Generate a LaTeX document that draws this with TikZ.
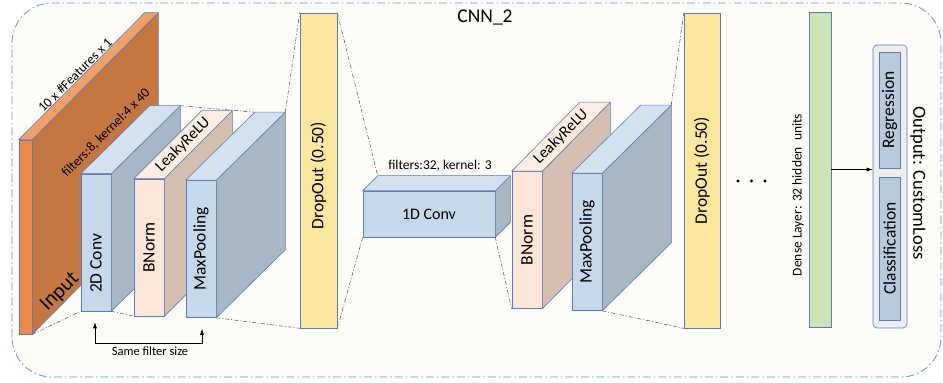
\documentclass[tikz,border=0pt]{standalone}
\usepackage{fontspec}
\usepackage{graphicx}
\setmainfont{Carlito}
\usetikzlibrary{calc,arrows.meta}

\definecolor{edgeblue}{HTML}{5B7DB5}
\definecolor{frameblue}{HTML}{6F8FC6}
\definecolor{bgcream}{HTML}{FDFCF8}
\definecolor{inorange}{HTML}{ED8B4F}
\definecolor{inbrown}{HTML}{C57741}
\definecolor{intop}{HTML}{F2A06A}
\definecolor{bluefront}{HTML}{C6D9EB}
\definecolor{blueside}{HTML}{A7B7C4}
\definecolor{bluetop}{HTML}{D3E2EF}
\definecolor{peachfront}{HTML}{FBE6D8}
\definecolor{peachside}{HTML}{D4BFB1}
\definecolor{peachtop}{HTML}{FCEDE3}
\definecolor{dropyellow}{HTML}{FFE69D}
\definecolor{densegreen}{HTML}{CCE2B7}
\definecolor{outgray}{HTML}{EDEDED}
\definecolor{outblue}{HTML}{B8CADC}

\newcommand{\bigtxt}{\fontsize{19.5}{20}\selectfont}
\newcommand{\vtxt}{\fontsize{17.5}{18}\selectfont}
\newcommand{\midtxt}{\fontsize{16}{17}\selectfont}
\newcommand{\smalltxt}{\fontsize{13.5}{14}\selectfont}

\newcommand{\depthfaces}[5]{%
  \filldraw[fill=#4, draw=edgeblue, line width=0.6pt, line join=round]
    (#1.north east) -- ++(#2,#3) -- ($(#1.south east)+(#2,#3)$) -- (#1.south east) -- cycle;
  \filldraw[fill=#5, draw=edgeblue, line width=0.6pt, line join=round]
    (#1.north west) -- ++(#2,#3) -- ($(#1.north east)+(#2,#3)$) -- (#1.north east) -- cycle;
}

\pgfdeclarelayer{bg}
\pgfsetlayers{bg,main}

\tikzset{
  face/.style={draw=edgeblue, line width=0.6pt, inner sep=0pt, minimum width=30, minimum height=137},
  bar/.style={face, minimum width=37, minimum height=315},
  link/.style={draw=black!70, line width=0.5pt, dash pattern=on 4pt off 2pt on 1pt off 2pt},
  caption/.style={inner sep=1pt}
}

\begin{document}
\begin{tikzpicture}[x=1pt,y=1pt]
\useasboundingbox (0,0) rectangle (943,383);

\node[face, fill=inorange, minimum width=13, minimum height=194] (input) at (25.5,146) {};
\depthfaces{input}{126}{127}{inbrown}{intop}

\node[face, fill=bluefront] (conv2d) at (96,140.5) {\rotatebox{90}{\vtxt 2D Conv\hspace*{42pt}}};
\depthfaces{conv2d}{69}{68}{blueside}{bluetop}

\node[face, fill=peachfront] (bnorm1) at (149,135.5) {\rotatebox{90}{\vtxt BNorm}};
\depthfaces{bnorm1}{68}{68}{peachside}{peachtop}

\node[face, fill=bluefront] (maxpool1) at (201,134) {\rotatebox{90}{\vtxt MaxPooling}};
\depthfaces{maxpool1}{69}{68}{blueside}{bluetop}

\node[bar, fill=dropyellow] (drop1) at (318.5,212.5) {\rotatebox{90}{\vtxt DropOut (0.50)\hspace*{10pt}}};

\node[face, fill=bluefront, minimum width=132, minimum height=46] (conv1d) at (429,169) {\midtxt 1D Conv};
\depthfaces{conv1d}{15}{15}{blueside}{bluetop}

\node[face, fill=peachfront] (bnorm2) at (527,143) {\rotatebox{90}{\vtxt BNorm}};
\depthfaces{bnorm2}{68}{69}{peachside}{peachtop}

\node[face, fill=bluefront] (maxpool2) at (587,141) {\rotatebox{90}{\vtxt MaxPooling}};
\depthfaces{maxpool2}{69}{68}{blueside}{bluetop}

\node[bar, fill=dropyellow, minimum width=36] (drop2) at (702,212.5) {\rotatebox{90}{\vtxt DropOut (0.50)}};

\node[bar, fill=densegreen, minimum width=22] (dense) at (820,213.5) {};

\node[face, fill=outgray, rounded corners=4pt, minimum width=34, minimum height=283] (outbox) at (890,196.5) {};
\node[face, fill=outblue, minimum width=21, minimum height=116] (regr) at (889.5,273) {\rotatebox{90}{\vtxt Regression}};
\node[face, fill=outblue, minimum width=21, minimum height=143] (classif) at (889.5,134.5) {\rotatebox{90}{\vtxt Classification}};

\begin{scope}[every node/.style={caption}]
  \node (title) at (485,366) {\bigtxt CNN\_2};
  \node[rotate=45] (dims) at (75,308) {\smalltxt 10 x \#Features x 1};
  \node[rotate=45] (filt8) at (106,250) {\smalltxt filters:8, kernel:4 x 40};
  \node[rotate=45] (inlbl) at (60,91) {\fontsize{21}{21}\selectfont Input};
  \node[rotate=45] (leaky1) at ($(bnorm1.north)+(34,34)$) {\midtxt LeakyReLU};
  \node[rotate=45] (leaky2) at ($(bnorm2.north)+(34,34.5)$) {\midtxt LeakyReLU};
  \node (filt32) at (440,217) {\smalltxt filters:32, kernel: 3};
  \node[rotate=90] (densetxt) at (798,188) {\smalltxt Dense Layer: 32 hidden\ \ units};
  \node[rotate=-90] (outtxt) at (918,200) {\fontsize{18.5}{19}\selectfont Output: CustomLoss};
  \node (samefs) at (150,32) {\fontsize{12.5}{13}\selectfont Same filter size};
\end{scope}

\begin{scope}[every node/.style={circle, fill=black, inner sep=0pt, minimum size=3.2}]
  \node (dot1) at (738,202) {};
  \node (dot2) at (751.5,202) {};
  \node (dot3) at (765,202) {};
\end{scope}

\draw[-{Latex[length=6pt,width=4pt]}, line width=0.6pt] (dense.east) -- (dense.east -| outbox.west);
\draw[{Latex[length=6pt,width=4pt]}-{Latex[length=6pt,width=4pt]}, line width=0.6pt]
  ($(conv2d.south)+(-1,-11)$) -- ++(0,-21) -| ($(maxpool1.south)+(1,-11)$);

\begin{pgfonlayer}{bg}
  \draw[draw=frameblue, fill=bgcream, line width=0.8pt, rounded corners=40pt,
        dash pattern=on 8pt off 3pt on 1.5pt off 3pt] (12,6) rectangle (941,380);
  \path[link] (input.south east) -- (conv2d.south west);
  \path[link] (conv2d.south east) -- (bnorm1.south west);
  \path[link] ($(conv2d.north east)+(69,68)$) -- ($(maxpool1.north west)+(69,68)$);
  \path[link] ($(maxpool1.north east)+(69,68)$) -- (drop1.north west);
  \path[link] (maxpool1.south east) -- (drop1.south west);
  \path[link] (drop1.north east) -- ($(conv1d.north west)+(15,15)$);
  \path[link] (drop1.south east) -- (conv1d.south west);
  \path[link] (conv1d.south east) -- (bnorm2.south west);
  \path[link] ($(maxpool2.north east)+(69,68)$) -- (drop2.north west);
  \path[link] (maxpool2.south east) -- (drop2.south west);
\end{pgfonlayer}

\end{tikzpicture}
\end{document}
